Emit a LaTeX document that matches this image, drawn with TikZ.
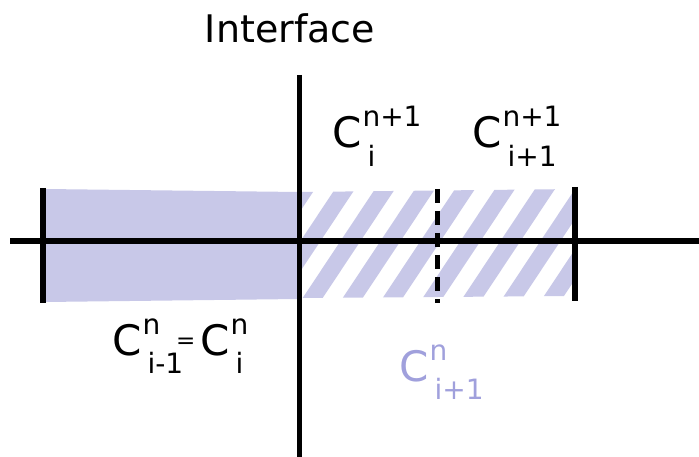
\documentclass[tikz,border=0pt]{standalone}
\usepackage{fontspec}
\setmainfont{DejaVu Sans}
\usepackage{xcolor}
\usetikzlibrary{positioning,calc}
\definecolor{sh}{HTML}{C8C8E8}
\definecolor{lv}{HTML}{A0A0DC}
\newcommand{\idxfont}{\fontsize{28}{30}\selectfont}
\newcommand{\Cfont}{\fontsize{42}{44}\selectfont}
\newcommand{\Cv}[2]{C\kern1pt\rlap{\raisebox{0.5em}{\idxfont #1}}\rlap{\raisebox{-0.45em}{\idxfont\kern5pt #2}}}

\begin{document}
\begin{tikzpicture}[x=1pt,y=-1pt,
    lbl/.style={anchor=base west, inner sep=0pt, font=\Cfont},
    bar/.style={line width=6pt},
  ]
  \useasboundingbox (0,0) rectangle (699,457);
  % end points
  \coordinate (axL) at (10,241);
  \coordinate (axR) at (699,241);
  \coordinate (ifT) at (299,75);
  \coordinate (ifB) at (299,457);
  \coordinate (lT) at (43,188);
  \coordinate (lB) at (43,303);
  \coordinate (rT) at (575,187);
  \coordinate (rB) at (575,301);
  \coordinate (dT) at (437,189);
  \coordinate (dB) at (437,303);
  % old state: filled cell
  \fill[sh] (45,189) -- (299,192) -- (299,299) -- (45,302) -- cycle;
  % new state: hatched cells
  \begin{scope}
    \clip (299,192) -- (577,189) -- (577,296) -- (299,298) -- cycle;
    \foreach \k in {-3,...,7}
      \fill[sh] ({302+40*\k},299) -- ++(20,0) -- ++(73,-110) -- ++(-20,0) -- cycle;
  \end{scope}
  % lines
  \draw[bar] (axL) -- (axR);
  \draw[line width=5pt] (ifT) -- (ifB);
  \draw[bar] (lT) -- (lB);
  \draw[bar] (rT) -- (rB);
  \draw[line width=5pt, dash pattern=on 14pt off 8pt] (dT) -- (dB);
  % labels
  \node[anchor=base, inner sep=0pt, font=\fontsize{38}{40}\selectfont] (title) at (290,43) {Interface};
  \node[lbl] (cin) at (332,148) {\Cv{n+1}{i}};
  \node[lbl] (cnx) at (472,148) {\Cv{n+1}{i+1}};
  \node[lbl] (cpv) at (112,355) {\Cv{n}{i-1}};
  \node[lbl, font=\fontsize{23}{25}\selectfont] (eq) at (176,348) {=};
  \node[lbl] (cio) at (200,355) {\Cv{n}{i}};
  \node[lbl, text=lv] (cio2) at (399,381) {\Cv{n}{i+1}};
\end{tikzpicture}
\end{document}
